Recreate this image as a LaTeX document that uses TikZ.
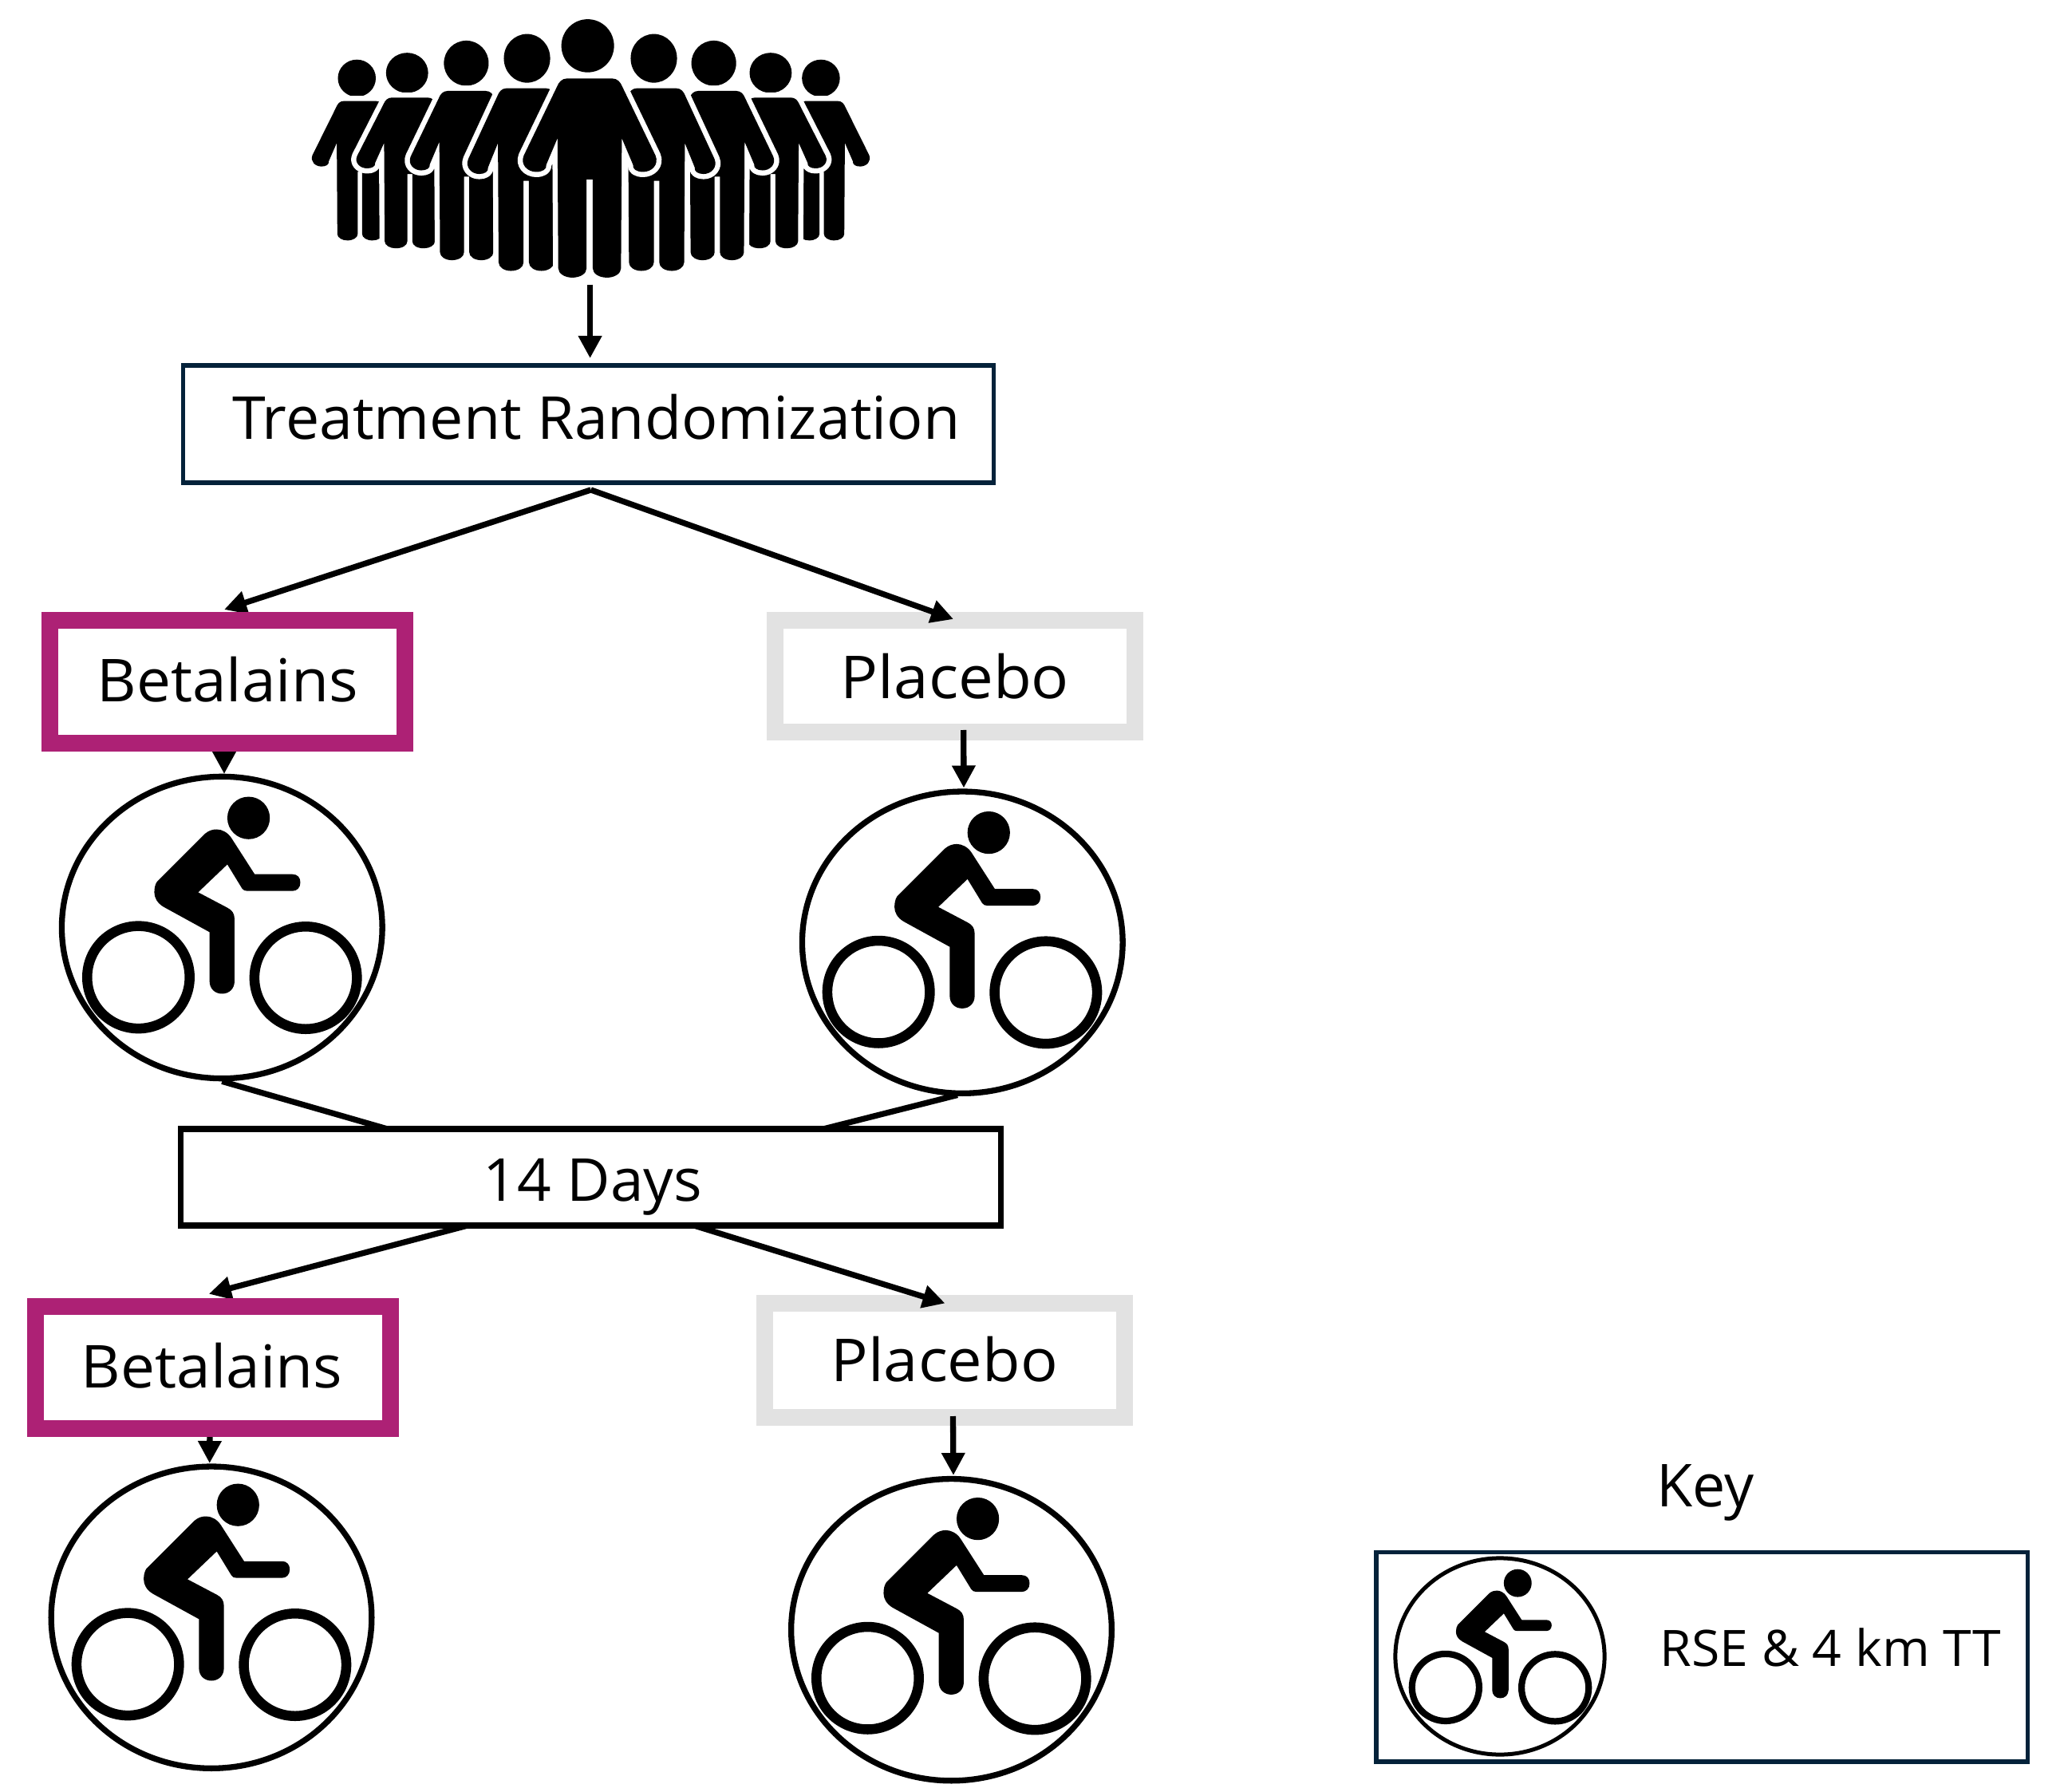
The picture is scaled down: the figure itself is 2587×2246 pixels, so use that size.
\documentclass[tikz,border=0pt]{standalone}
\usepackage{fontspec}
\usepackage{graphicx}
\setmainfont{Open Sans}
\usetikzlibrary{arrows.meta,shapes.geometric}
\definecolor{navy}{HTML}{04223A}
\definecolor{magenta}{HTML}{AD2175}
\definecolor{lightgrey}{HTML}{E2E2E2}
\newcommand\fw[2]{\resizebox{#1cm}{\height}{#2}}
\newcommand\bigf{\fontsize{21.1}{25}\selectfont}
\newcommand\smallf{\fontsize{17.9}{22}\selectfont}
% #1 body centre x, #2 head centre x, #3 body top y (reference-crop units), #4 x scale, #5 y scale
\newcommand\crowdperson[5]{%
  \begin{scope}[shift={({360+#1/2.063},{#3/3})},x=#4*0.004847cm,y=-#5*0.003333cm]
    \fill[black] ({(#2-#1)/#4},-123) ellipse [x radius=68,y radius=100];
    \path[fill=black,preaction={draw=white,line width=0.13cm,line join=round}]
      (0,0) -- (58,0) .. controls (72,0) and (80,15) .. (84,30) -- (170,290)
      .. controls (180,325) and (160,352) .. (138,352)
      .. controls (122,352) and (110,342) .. (112,325) -- (83,225) -- (81,715)
      .. controls (81,735) and (64,750) .. (45,750)
      .. controls (24,750) and (8,735) .. (8,715) -- (8,380) -- (-8,380) -- (-8,715)
      .. controls (-8,735) and (-24,750) .. (-45,750)
      .. controls (-64,750) and (-81,735) .. (-81,715) -- (-83,225) -- (-112,325)
      .. controls (-110,342) and (-122,352) .. (-138,352)
      .. controls (-160,352) and (-180,325) .. (-170,290) -- (-84,30)
      .. controls (-80,15) and (-72,0) .. (-58,0) -- cycle;
  \end{scope}}
% #1 name, #2 cx, #3 cy, #4 rx, #5 ry, #6 scale, #7 line width px, #8 bx, #9 by
\newcommand\cyclist[9]{%
  \node[ellipse,draw=black,inner sep=0pt,line width=#7*0.01cm,minimum width=#4*0.02cm,minimum height=#5*0.02cm] (#1) at (#2,#3) {};
  \begin{scope}[shift={(#8,#9)},x=#6*0.003333cm,y=-#6*0.003333cm]
    \fill[black] (100,-415) circle [radius=80];
    \draw[black,line width=#6*0.125cm] (-315,185) circle [radius=193];
    \draw[black,line width=#6*0.125cm] (315,187) circle [radius=193];
    \fill[black] (-65,-355) .. controls (-50,-368) and (-35,-372) .. (-20,-372)
      .. controls (0,-372) and (22,-360) .. (35,-340) -- (123,-203) -- (265,-203)
      .. controls (285,-203) and (295,-190) .. (295,-172)
      .. controls (295,-152) and (282,-140) .. (265,-140) -- (95,-140)
      .. controls (85,-140) and (80,-143) .. (75,-150) -- (20,-240) -- (-90,-135) -- (20,-77)
      .. controls (38,-68) and (47,-55) .. (47,-35) -- (47,200)
      .. controls (47,228) and (27,247) .. (0,247)
      .. controls (-27,247) and (-47,228) .. (-47,200) -- (-47,15) -- (-220,-80)
      .. controls (-245,-95) and (-255,-115) .. (-255,-135)
      .. controls (-255,-150) and (-252,-165) .. (-245,-175) -- cycle;
  \end{scope}}
\tikzset{
  arr/.style={line width=0.073cm,black,-{Triangle[width=0.28cm,length=0.28cm]}},
  link/.style={line width=0.073cm,black},
  box/.style={rectangle,inner sep=0pt,fill=white,font=\bigf,text=black},
  lab/.style={inner sep=0pt,text=black,anchor=base west}
}
\begin{document}
\begin{tikzpicture}[x=0.01cm,y=-0.01cm]
\useasboundingbox (0,0) rectangle (2587,2246);
% crowd
\crowdperson{188}{180}{380}{0.72}{0.70}
\crowdperson{1382}{1380}{380}{0.72}{0.70}
\crowdperson{317}{310}{367}{0.80}{0.757}
\crowdperson{1256}{1250}{367}{0.80}{0.757}
\crowdperson{464}{463}{342}{0.85}{0.85}
\crowdperson{1112}{1103}{342}{0.85}{0.85}
\crowdperson{618}{620}{332}{0.88}{0.917}
\crowdperson{955}{948}{332}{0.88}{0.917}
\crowdperson{782}{777}{295}{1}{1}
% cyclists
\cyclist{c1}{278.3}{1162.5}{200.7}{189}{1}{7.3}{278.3}{1163.3}
\cyclist{c2}{1206.3}{1181.2}{200.7}{189}{1}{7.3}{1206}{1181.7}
\cyclist{c3}{265}{2027.2}{200.7}{189}{1}{7.3}{265}{2024.3}
\cyclist{c4}{1192.5}{2042.7}{200.7}{189}{1}{7.3}{1192.3}{2041.7}
% connector ends
\coordinate (crowdout) at (739.6,356.7);
\coordinate (randin) at (739.6,449);
\coordinate (split) at (740.6,614);
\coordinate (b1in) at (281,764);
\coordinate (p1in) at (1195,776);
\coordinate (b1out) at (281,925);
\coordinate (c1in) at (281,970);
\coordinate (p1out) at (1207.7,915);
\coordinate (c2in) at (1208,987.5);
\coordinate (c2bot) at (1200,1372.5);
\coordinate (dl) at (489,1416);
\coordinate (dr) at (1028,1416);
\coordinate (dbl) at (586,1536);
\coordinate (dbr) at (870,1536);
\coordinate (b2in) at (261.8,1621.7);
\coordinate (p2in) at (1184.5,1633.5);
\coordinate (b2out) at (263,1790);
\coordinate (c3in) at (262.7,1834);
\coordinate (p2out) at (1194.5,1775);
\coordinate (c4in) at (1195,1849);
% connectors below boxes
\draw[arr] (crowdout) -- (randin);
\draw[arr] (split) -- (b1in);
\draw[arr] (b1out) -- (c1in);
\draw[link] (c1.south) -- (dl);
\draw[link] (c2bot) -- (dr);
\draw[arr] (dbl) -- (b2in);
\draw[arr] (b2out) -- (c3in);
% boxes
\node[box,draw=navy,line width=0.055cm,minimum width=10.15cm,minimum height=1.47cm,text height=0.37cm,text depth=0pt] (rand) at (737.5,531.5) {\hspace*{0.196cm}\fw{9.12}{Treatment Randomization}};
\node[box,draw=magenta,line width=0.21cm,minimum width=4.451cm,minimum height=1.538cm,text height=0.498cm,text depth=0pt] (b1) at (285,854.4) {\fw{3.27}{Betalains}};
\node[box,draw=lightgrey,line width=0.21cm,minimum width=4.51cm,minimum height=1.398cm,text height=0.552cm,text depth=0pt] (p1) at (1197,847.4) {\fw{2.86}{Placebo}};
\node[box,draw=black,line width=0.072cm,minimum width=10.275cm,minimum height=1.21cm,text height=0.59cm,text depth=0pt] (days) at (740.25,1475.5) {\hspace*{0.055cm}\fw{2.74}{14 Days}};
\node[box,draw=magenta,line width=0.21cm,minimum width=4.45cm,minimum height=1.53cm,text height=0.5cm,text depth=0pt] (b2) at (267,1714) {\fw{3.27}{Betalains}\hspace*{0.03cm}};
\node[box,draw=lightgrey,line width=0.21cm,minimum width=4.505cm,minimum height=1.433cm,text height=0.517cm,text depth=0pt] (p2) at (1183.75,1705.15) {\fw{2.84}{Placebo}};
% connectors above boxes
\draw[arr] (split) -- (p1in);
\draw[arr] (p1out) -- (c2in);
\draw[arr] (dbr) -- (p2in);
\draw[arr] (p2out) -- (c4in);
% key
\node[lab,font=\bigf] (keytitle) at (2075.7,1888) {\fw{1.22}{Key}};
\node[rectangle,draw=navy,inner sep=0pt,line width=0.055cm,minimum width=8.16cm,minimum height=2.62cm] (keybox) at (2133,2076.7) {};
\cyclist{ck}{1880}{2076}{131}{123}{0.655}{5}{1880.5}{2074.6}
\node[lab,font=\smallf] (keytext) at (2080.2,2088) {\fw{4.27}{RSE \& 4 km TT}};
\end{tikzpicture}
\end{document}
